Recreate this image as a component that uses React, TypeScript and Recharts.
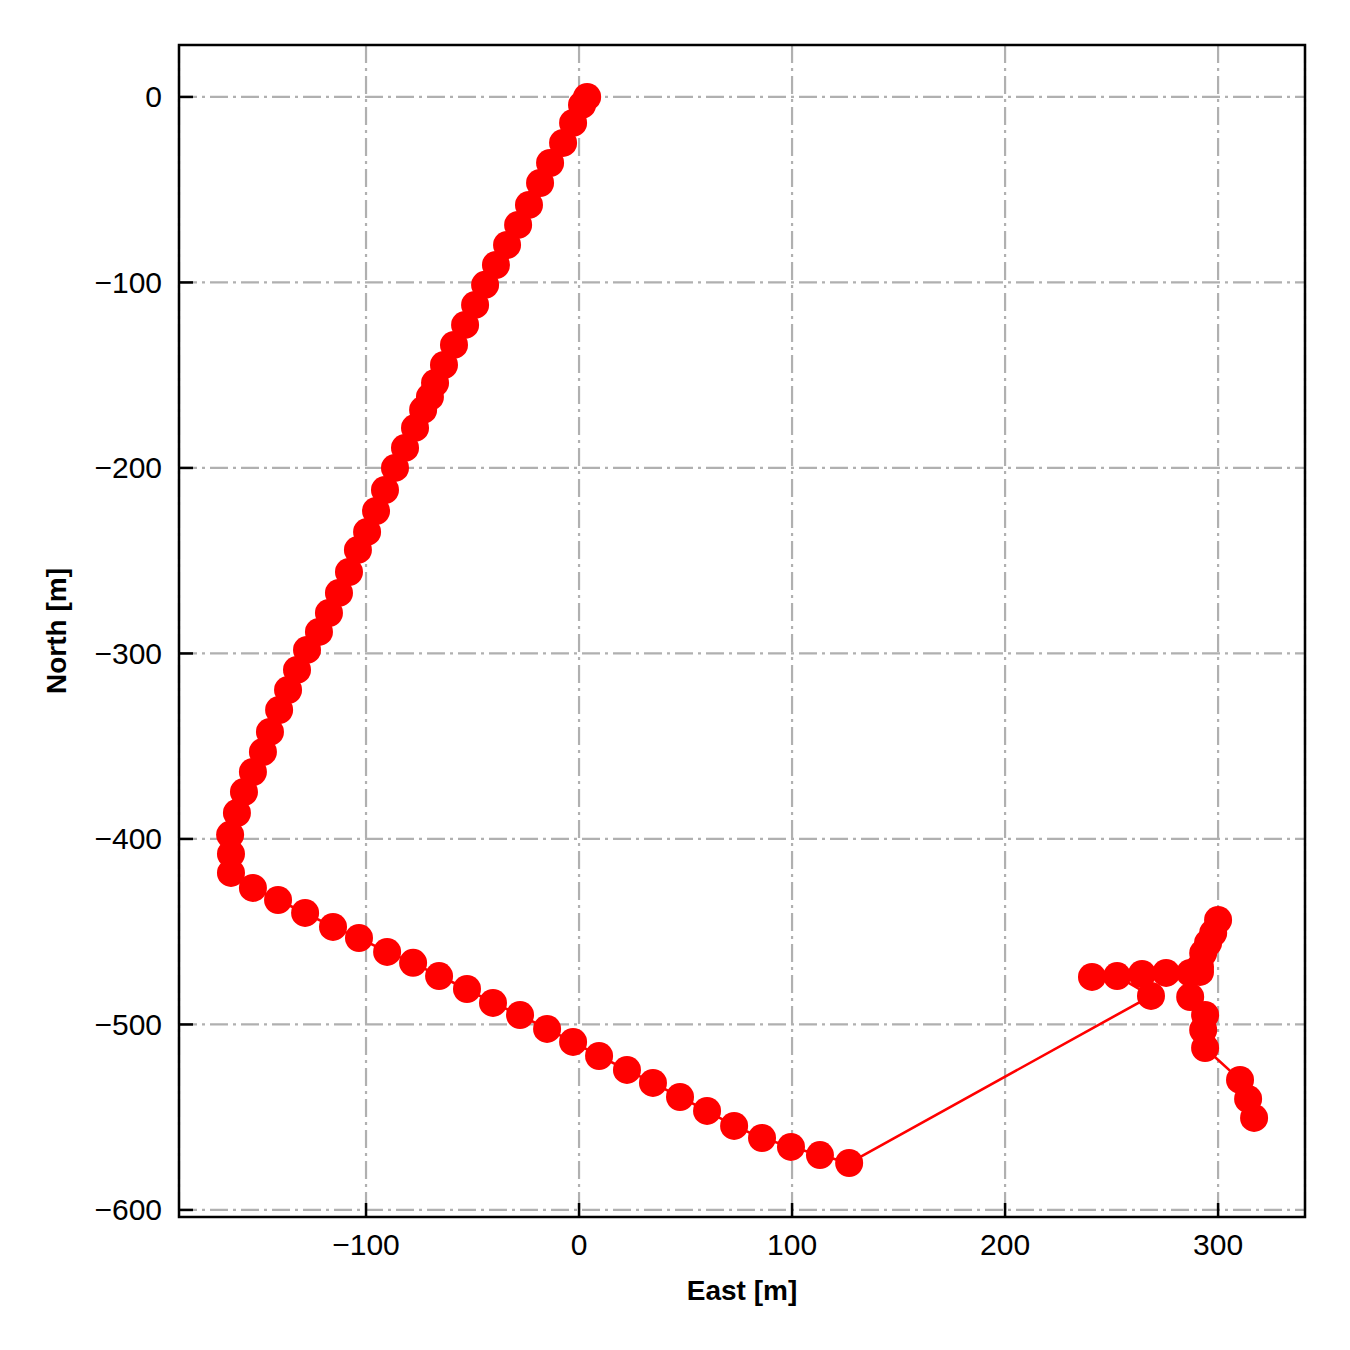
import React from "react";
import {
  ScatterChart,
  Scatter,
  XAxis,
  YAxis,
  CartesianGrid,
  ReferenceArea,
} from "recharts";

// track positions in metres, in travel order
const east = [
  3.8, 1.4, -2.8, -7.5, -13.6, -18.3, -23.5, -28.6, -33.8, -39.0, -44.1, -48.8,
  -53.5, -58.7, -63.4, -67.6, -70.0, -73.2, -77.0, -81.7, -86.4, -91.1, -95.3,
  -99.5, -103.8, -108.0, -112.7, -117.4, -122.1, -127.7, -132.4, -136.6, -140.8,
  -145.1, -148.4, -153.1, -157.3, -160.6, -163.8, -163.4, -163.4,
  -153.1, -141.3, -128.6, -115.5, -103.3, -90.1, -77.9, -65.7, -52.6, -40.4,
  -27.7, -15.0, -2.8, 9.4, 22.5, 34.7, 47.4, 60.1, 72.8, 85.9, 99.5, 113.1, 126.8,
  268.5, 252.6, 240.8, 264.3, 275.6, 286.9, 291.5, 293.0, 295.3, 297.7, 300.0,
  291.5, 286.9, 293.9, 293.0, 293.9, 310.3, 314.1, 316.9,
];

const north = [
  0, -4.3, -14.0, -24.8, -35.6, -46.4, -58.2, -69.0, -79.8, -90.6, -101.3, -112.1,
  -122.9, -133.7, -144.5, -154.2, -161.7, -168.7, -178.4, -189.2, -200.0, -211.9,
  -223.2, -234.5, -244.2, -256.1, -267.4, -278.2, -288.4, -298.1, -308.9, -319.7,
  -330.5, -342.3, -353.1, -363.9, -374.7, -386.0, -397.8, -408.1, -418.3,
  -426.4, -432.9, -439.9, -447.4, -453.4, -460.9, -466.8, -473.9, -480.9, -488.4,
  -494.9, -502.4, -509.4, -517.0, -524.5, -531.5, -539.1, -546.6, -554.7, -561.2,
  -566.0, -570.4, -574.7,
  -484.6, -473.9, -474.4, -472.8, -472.2, -472.2, -469.0, -461.5, -456.1, -450.7,
  -443.7, -471.7, -485.2, -494.9, -503.0, -512.7, -529.9, -540.2, -550.4,
];

const xTicks = [-100, 0, 100, 200, 300];
const yTicks = [0, -100, -200, -300, -400, -500, -600];
const xDomain = [-187.8, 340.8];
const yDomain = [-603.8, 28];

const points = east.map((e, i) => ({ e, n: north[i] }));

const FONT = "'Liberation Sans', Arial, sans-serif";
const fmt = (v: number) => (v < 0 ? "\u2212" + Math.abs(v) : String(v));

function YTick({ x, y, payload }: any) {
  return (
    <g>
      <line x1={x} x2={x + 14} y1={y} y2={y} stroke="#000" strokeWidth={2.5} />
      <text
        x={x - 17}
        y={y}
        textAnchor="end"
        dominantBaseline="central"
        fontSize={30}
        fontFamily={FONT}
        fill="#000"
      >
        {fmt(payload.value)}
      </text>
    </g>
  );
}

function XTick({ x, y, payload }: any) {
  return (
    <g>
      <line x1={x} x2={x} y1={y} y2={y - 14} stroke="#000" strokeWidth={2.5} />
      <text
        x={x}
        y={y + 38}
        textAnchor="middle"
        fontSize={30}
        fontFamily={FONT}
        fill="#000"
      >
        {fmt(payload.value)}
      </text>
    </g>
  );
}

const Dot = (props: any) => (
  <circle cx={props.cx} cy={props.cy} r={14} fill="#ff0000" />
);

export default function App() {
  return (
    <div style={{ position: "absolute", left: 0, top: 0, background: "#fff" }}>
      <ScatterChart
        width={1350}
        height={1350}
        margin={{ top: 45, right: 45, left: 0, bottom: 0 }}
      >
        <CartesianGrid
          stroke="#b0b0b0"
          strokeWidth={2.2}
          strokeDasharray="18 5 3 5"
        />
        <XAxis
          type="number"
          dataKey="e"
          domain={xDomain}
          ticks={xTicks}
          allowDataOverflow
          height={133}
          axisLine={false}
          tickLine={false}
          tickSize={0}
          tickMargin={0}
          tick={<XTick />}
          label={{
            content: ({ viewBox }: any) => (
              <text
                x={viewBox.x + viewBox.width / 2}
                y={viewBox.y + 83}
                textAnchor="middle"
                fontSize={28}
                fontWeight="bold"
                fontFamily={FONT}
                fill="#000"
              >
                East [m]
              </text>
            ),
          }}
        />
        <YAxis
          type="number"
          dataKey="n"
          domain={yDomain}
          ticks={yTicks}
          allowDataOverflow
          width={179}
          axisLine={false}
          tickLine={false}
          tickSize={0}
          tickMargin={0}
          tick={<YTick />}
          label={{
            content: ({ viewBox }: any) => {
              const cy = viewBox.y + viewBox.height / 2;
              return (
                <text
                  x={66}
                  y={cy}
                  transform={`rotate(-90, 66, ${cy})`}
                  textAnchor="middle"
                  fontSize={28}
                  fontWeight="bold"
                  fontFamily={FONT}
                  fill="#000"
                >
                  North [m]
                </text>
              );
            },
          }}
        />
        <Scatter
          data={points}
          line={{ stroke: "#ff0000", strokeWidth: 2.6 }}
          shape={Dot}
          isAnimationActive={false}
        />
        <ReferenceArea
          x1={xDomain[0]}
          x2={xDomain[1]}
          y1={yDomain[0]}
          y2={yDomain[1]}
          fill="none"
          stroke="#000"
          strokeWidth={2.5}
          ifOverflow="visible"
        />
      </ScatterChart>
    </div>
  );
}
